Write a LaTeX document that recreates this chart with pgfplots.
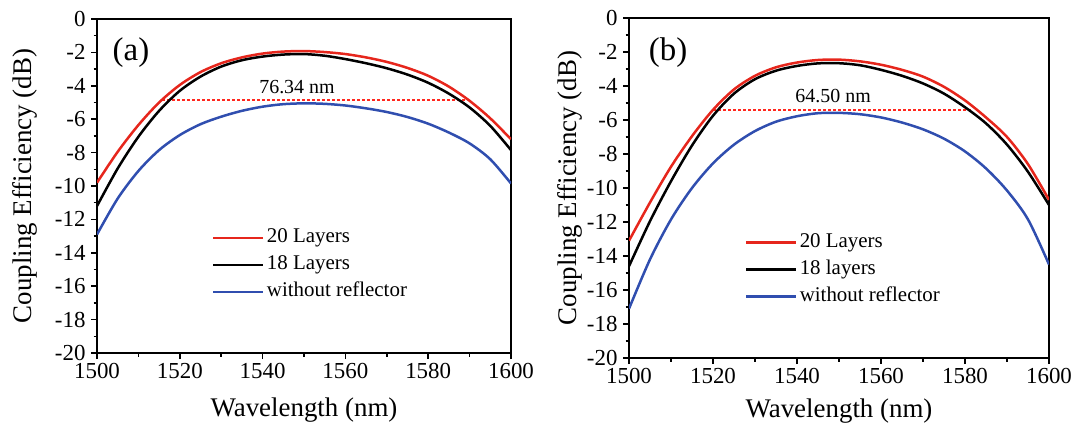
\documentclass[border=0pt]{standalone}
\usepackage{pgfplots}
\pgfplotsset{compat=1.18}
\usepackage{fontspec}
\setmainfont{Liberation Serif}
\definecolor{cred}{RGB}{230,38,28}
\definecolor{cblue}{RGB}{48,78,175}
\definecolor{dashred}{RGB}{255,40,30}
\pgfplotsset{
  myaxis/.style={
    scale only axis,
    anchor=south west,
    xmin=1500, xmax=1600, ymin=-20, ymax=0,
    xtick={1500,1520,...,1600},
    ytick={-20,-18,...,0},
    minor x tick num=1, minor y tick num=1,
    xtick pos=bottom, ytick pos=left,
    tick align=outside,
    major tick length=6bp, minor tick length=3.5bp,
    every tick/.style={black, line width=1.5bp},
    axis line style={line width=2bp},
    /pgf/number format/assume math mode=true,
    /pgf/number format/1000 sep={},
    tick label style={font=\fontsize{23}{27}\selectfont},
    xticklabel style={yshift=-1bp},
    yticklabel style={xshift=-2bp},
    label style={font=\fontsize{27}{32}\selectfont},
    xlabel={Wavelength (nm)},
    ylabel={Coupling Efficiency (dB)},
    legend cell align=left,
    legend style={draw=none, fill=none, font=\fontsize{21}{25}\selectfont,
      anchor=north west,
      nodes={inner sep=2.5bp, text height=16bp, text depth=6bp}},
    legend image code/.code={\draw[#1] (0bp,0bp) -- (50bp,0bp);},
  }
}
\begin{document}
\begin{tikzpicture}[x=1bp,y=1bp]
\path[use as bounding box] (0,0) rectangle (1072,426);
% ---------- panel (a)
\begin{axis}[myaxis,
  at={(97bp,73bp)}, width=414bp, height=334bp,
  xlabel style={at={(axis description cs:0.5,-0.17)}, anchor=center},
  ylabel style={at={(axis description cs:-0.174,0.5)}, anchor=center},
  legend style={at={(axis description cs:0.27,0.392)}},
]
\addplot[dashred, line width=2bp, dash pattern=on 3bp off 2bp, forget plot] coordinates {(1515.8,-4.85)(1588.8,-4.85)};
\addplot[cred, line width=2.5bp, smooth] coordinates {
(1500,-9.8)(1505,-7.95)(1510,-6.35)(1515,-5.0)(1520,-3.95)
(1525,-3.18)(1530,-2.65)(1535,-2.3)(1540,-2.07)(1545,-1.95)(1550,-1.92)(1555,-1.98)
(1560,-2.1)(1565,-2.3)(1570,-2.57)(1575,-2.93)(1580,-3.4)(1585,-4.05)(1590,-4.9)
(1595,-5.95)(1600,-7.2)};
\addlegendentry{20 Layers}
\addplot[black, line width=2.5bp, smooth] coordinates {
(1500,-11.2)(1505,-8.95)(1510,-7.05)(1515,-5.5)(1520,-4.3)
(1525,-3.45)(1530,-2.85)(1535,-2.47)(1540,-2.25)(1545,-2.13)(1550,-2.1)(1555,-2.2)
(1560,-2.4)(1565,-2.65)(1570,-2.95)(1575,-3.33)(1580,-3.82)(1585,-4.47)(1590,-5.3)
(1595,-6.4)(1600,-7.85)};
\addlegendentry{18 Layers}
\addplot[cblue, line width=2.5bp, smooth] coordinates {
(1500,-12.9)(1505,-10.75)(1510,-9.1)(1515,-7.85)(1520,-6.95)
(1525,-6.3)(1530,-5.85)(1535,-5.5)(1540,-5.25)(1545,-5.1)(1550,-5.05)(1555,-5.08)
(1560,-5.18)(1565,-5.35)(1570,-5.57)(1575,-5.87)(1580,-6.27)(1585,-6.8)(1590,-7.45)
(1595,-8.4)(1600,-9.85)};
\addlegendentry{without reflector}
\node[font=\fontsize{20}{24}\selectfont] at (axis cs:1548.3,-4.1) {76.34 nm};
\node[font=\fontsize{33}{38}\selectfont] at (axis cs:1508.2,-2.0) {(a)};
\end{axis}
% ---------- panel (b)
\begin{axis}[myaxis,
  at={(629bp,68bp)}, width=420bp, height=340bp,
  xlabel style={at={(axis description cs:0.5,-0.155)}, anchor=center},
  ylabel style={at={(axis description cs:-0.14,0.5)}, anchor=center},
  legend style={at={(axis description cs:0.268,0.386)}},
]
\addplot[dashred, line width=1.8bp, dash pattern=on 3bp off 2bp, forget plot] coordinates {(1520.0,-5.39)(1581.5,-5.39)};
\addplot[cred, line width=2.5bp, smooth] coordinates {
(1500,-13.1)(1505,-10.85)(1510,-8.75)(1515,-6.95)(1520,-5.4)
(1525,-4.2)(1530,-3.4)(1535,-2.9)(1540,-2.62)(1545,-2.47)(1550,-2.45)(1555,-2.55)
(1560,-2.75)(1565,-3.05)(1570,-3.45)(1575,-4.05)(1580,-4.85)(1585,-5.85)(1590,-7.0)
(1595,-8.6)(1600,-10.7)};
\addlegendentry{20 Layers}
\addplot[black, line width=2.5bp, smooth] coordinates {
(1500,-14.6)(1505,-11.95)(1510,-9.6)(1515,-7.5)(1520,-5.75)
(1525,-4.45)(1530,-3.6)(1535,-3.1)(1540,-2.82)(1545,-2.67)(1550,-2.66)(1555,-2.78)
(1560,-3.05)(1565,-3.4)(1570,-3.85)(1575,-4.45)(1580,-5.25)(1585,-6.2)(1590,-7.45)
(1595,-9.05)(1600,-11.0)};
\addlegendentry{18 layers}
\addplot[cblue, line width=2.5bp, smooth] coordinates {
(1500,-17.1)(1505,-14.2)(1510,-11.85)(1515,-10.0)(1520,-8.55)
(1525,-7.45)(1530,-6.65)(1535,-6.1)(1540,-5.78)(1545,-5.6)(1550,-5.58)(1555,-5.66)
(1560,-5.85)(1565,-6.15)(1570,-6.55)(1575,-7.1)(1580,-7.85)(1585,-8.85)(1590,-10.15)
(1595,-11.85)(1600,-14.5)};
\addlegendentry{without reflector}
\node[font=\fontsize{20}{24}\selectfont] at (axis cs:1548.6,-4.6) {64.50 nm};
\node[font=\fontsize{33}{38}\selectfont] at (axis cs:1509.3,-2.06) {(b)};
\end{axis}
\end{tikzpicture}
\end{document}
